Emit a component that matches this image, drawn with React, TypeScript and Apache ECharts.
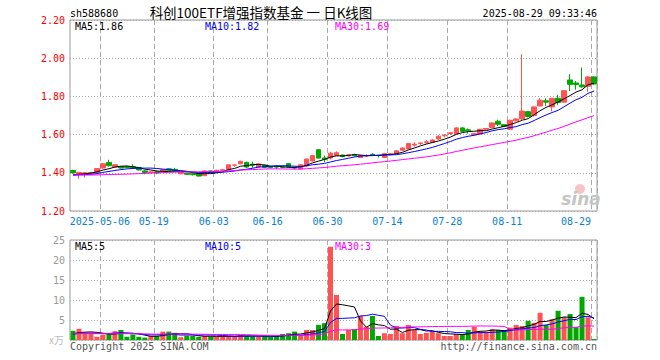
import React, { useEffect, useRef } from "react";
import * as echarts from "echarts";

// ---------- data ----------
const dates = [
  "2025-04-24","2025-04-25","2025-04-28","2025-04-29","2025-04-30",
  "2025-05-06","2025-05-07","2025-05-08","2025-05-09",
  "2025-05-12","2025-05-13","2025-05-14","2025-05-15","2025-05-16",
  "2025-05-19","2025-05-20","2025-05-21","2025-05-22","2025-05-23",
  "2025-05-26","2025-05-27","2025-05-28","2025-05-29","2025-05-30",
  "2025-06-03","2025-06-04","2025-06-05","2025-06-06",
  "2025-06-09","2025-06-10","2025-06-11","2025-06-12","2025-06-13",
  "2025-06-16","2025-06-17","2025-06-18","2025-06-19","2025-06-20",
  "2025-06-23","2025-06-24","2025-06-25","2025-06-26","2025-06-27",
  "2025-06-30","2025-07-01","2025-07-02","2025-07-03","2025-07-04",
  "2025-07-07","2025-07-08","2025-07-09","2025-07-10","2025-07-11",
  "2025-07-14","2025-07-15","2025-07-16","2025-07-17","2025-07-18",
  "2025-07-21","2025-07-22","2025-07-23","2025-07-24","2025-07-25",
  "2025-07-28","2025-07-29","2025-07-30","2025-07-31","2025-08-01",
  "2025-08-04","2025-08-05","2025-08-06","2025-08-07","2025-08-08",
  "2025-08-11","2025-08-12","2025-08-13","2025-08-14","2025-08-15",
  "2025-08-18","2025-08-19","2025-08-20","2025-08-21","2025-08-22",
  "2025-08-25","2025-08-26","2025-08-27","2025-08-28","2025-08-29",
];

// [open, close, low, high]
const candles: number[][] = [
  [1.412,1.400,1.395,1.416],[1.395,1.402,1.369,1.405],[1.396,1.400,1.375,1.404],[1.398,1.401,1.394,1.404],[1.400,1.422,1.398,1.425],
  [1.425,1.447,1.422,1.450],[1.454,1.437,1.433,1.468],[1.430,1.442,1.428,1.445],[1.433,1.425,1.422,1.436],
  [1.432,1.428,1.424,1.436],[1.432,1.425,1.420,1.445],[1.428,1.415,1.412,1.430],[1.410,1.402,1.392,1.414],[1.401,1.405,1.398,1.408],
  [1.405,1.399,1.393,1.412],[1.408,1.416,1.405,1.418],[1.421,1.413,1.410,1.424],[1.418,1.410,1.405,1.425],[1.395,1.402,1.392,1.404],
  [1.398,1.392,1.388,1.400],[1.395,1.390,1.386,1.398],[1.395,1.383,1.380,1.397],[1.385,1.410,1.384,1.412],[1.410,1.403,1.400,1.413],
  [1.405,1.413,1.402,1.416],[1.414,1.416,1.410,1.419],[1.416,1.442,1.414,1.444],[1.440,1.441,1.432,1.443],
  [1.447,1.460,1.445,1.463],[1.455,1.430,1.425,1.457],[1.445,1.440,1.425,1.458],[1.430,1.447,1.428,1.449],[1.440,1.428,1.424,1.442],
  [1.431,1.428,1.422,1.435],[1.432,1.430,1.420,1.440],[1.429,1.428,1.424,1.432],[1.448,1.430,1.428,1.450],[1.428,1.425,1.418,1.432],
  [1.420,1.442,1.418,1.445],[1.436,1.472,1.430,1.474],[1.462,1.490,1.460,1.492],[1.521,1.477,1.475,1.523],[1.478,1.470,1.455,1.490],
  [1.477,1.503,1.470,1.510],[1.490,1.505,1.488,1.512],[1.493,1.485,1.482,1.495],[1.488,1.494,1.486,1.496],[1.495,1.490,1.484,1.500],
  [1.480,1.490,1.478,1.492],[1.488,1.490,1.482,1.497],[1.497,1.495,1.490,1.502],[1.492,1.490,1.480,1.494],[1.480,1.500,1.478,1.503],
  [1.495,1.500,1.493,1.503],[1.500,1.515,1.498,1.517],[1.518,1.530,1.515,1.533],[1.525,1.553,1.522,1.555],[1.545,1.550,1.538,1.560],
  [1.554,1.556,1.546,1.558],[1.558,1.562,1.552,1.572],[1.560,1.572,1.555,1.575],[1.577,1.592,1.574,1.595],[1.594,1.597,1.585,1.602],
  [1.606,1.610,1.598,1.614],[1.605,1.635,1.602,1.638],[1.635,1.617,1.614,1.640],[1.625,1.620,1.605,1.632],[1.598,1.605,1.595,1.608],
  [1.603,1.628,1.600,1.630],[1.628,1.632,1.625,1.634],[1.637,1.661,1.635,1.664],[1.670,1.654,1.645,1.678],[1.652,1.642,1.640,1.655],
  [1.628,1.675,1.624,1.678],[1.672,1.682,1.670,1.685],[1.683,1.723,1.675,2.021],[1.720,1.695,1.690,1.724],[1.700,1.745,1.695,1.748],
  [1.750,1.780,1.748,1.792],[1.777,1.770,1.750,1.790],[1.745,1.790,1.722,1.792],[1.790,1.768,1.755,1.808],[1.770,1.830,1.768,1.832],
  [1.886,1.863,1.828,1.916],[1.870,1.862,1.835,1.880],[1.860,1.850,1.845,1.951],[1.853,1.902,1.825,1.905],[1.902,1.865,1.860,1.905],
];

// volume, 万
const volumes = [
  2.3,2.8,1.8,1.8,0.8,
  1.3,1.4,2.2,2.5,
  0.8,1.4,0.8,0.6,1.0,
  1.0,2.1,2.1,1.8,0.7,
  1.1,1.0,0.8,1.0,0.9,
  0.9,0.9,1.0,1.0,
  1.2,1.0,0.9,0.9,1.0,
  0.8,1.0,1.5,1.7,2.1,
  1.2,2.5,2.5,3.8,4.2,
  23.3,11.25,1.5,2.5,2.7,
  6.0,3.3,6.0,1.0,1.7,
  1.5,3.5,1.7,3.75,2.5,
  1.5,1.8,2.1,1.7,1.0,
  1.0,1.5,1.5,2.5,3.3,
  2.1,1.8,2.7,2.5,2.5,
  3.1,3.75,3.5,4.8,4.3,
  6.8,3.75,5.2,7.3,5.7,
  6.5,3.2,10.8,5.7,0.25,
];

// closes / volumes of the sessions before the visible window (for the moving averages)
const priorCloses = [1.40,1.41,1.42,1.41,1.40,1.41,1.42,1.41,1.40,1.39,1.38,1.36,1.35,1.37,1.38,1.37,1.38,1.39,1.38,1.37,1.38,1.39,1.38,1.39,1.38,1.39,1.39,1.38,1.39];
const priorVolumes = [1.6,1.4,1.8,1.5,1.3,1.7,2.0,1.6,1.4,1.2,1.5,1.8,2.2,1.9,1.6,1.4,1.3,1.5,1.7,1.4,1.2,1.3,1.6,1.5,1.4,1.2,1.3,1.5,1.4];

const markDates = ["2025-05-06","2025-05-19","2025-06-03","2025-06-16","2025-06-30","2025-07-14","2025-07-28","2025-08-11","2025-08-29"];
const maPeriods = [5, 10, 30];
const maColors = ["#000000", "#0000ff", "#ff00ff"];
const priceMaLabels = ["MA5:1.86", "MA10:1.82", "MA30:1.69"];
const volMaLabels = ["MA5:5", "MA10:5", "MA30:3"];

const symbolText = "sh588680";
const titleText = "科创100ETF增强指数基金 一 日K线图";
const timeText = "2025-08-29 09:33:46";
const unitText = "x万";
const copyText = "Copyright 2025 SINA.COM";
const urlText = "http://finance.sina.com.cn";

const UP = "#ff5353";
const DOWN = "#00a800";
const MONO = "'DejaVu Sans Mono', 'Liberation Mono', monospace";

function movingAverage(values: number[], prior: number[], n: number): number[] {
  const all = prior.concat(values);
  const off = prior.length;
  return values.map((_, i) => {
    let s = 0;
    for (let k = 0; k < n; k++) s += all[off + i - k];
    return +(s / n).toFixed(4);
  });
}

export default function App() {
  const ref = useRef<HTMLDivElement>(null);

  useEffect(() => {
    const chart = echarts.init(ref.current!, null, { renderer: "svg" });
    const closes = candles.map((c) => c[1]);
    const isMark = (_i: number, v: string) => markDates.indexOf(v) >= 0;
    const lastMark = markDates[markDates.length - 1];

    const gridLeft = 70;
    const gridW = 527;

    const xCommon = {
      type: "category" as const,
      data: dates,
      boundaryGap: true,
      axisLine: { show: false },
      axisTick: { show: false },
      splitLine: {
        show: true,
        interval: isMark,
        lineStyle: { color: "#aaaaaa", width: 1, type: [5, 3] },
      },
    };

    const priceLines = maPeriods.map((p, k) => ({
      type: "line",
      xAxisIndex: 0,
      yAxisIndex: 0,
      data: movingAverage(closes, priorCloses, p),
      showSymbol: false,
      symbol: "none",
      lineStyle: { color: maColors[k], width: 1 },
      z: 3,
    }));
    const volLines = maPeriods.map((p, k) => ({
      type: "line",
      xAxisIndex: 1,
      yAxisIndex: 1,
      data: movingAverage(volumes, priorVolumes, p),
      showSymbol: false,
      symbol: "none",
      lineStyle: { color: maColors[k], width: 1 },
      z: 3,
    }));

    const textEl = (text: string, x: number, y: number, fill: string, opts: any = {}) => {
      const fs = opts.fontSize || 10;
      return {
        type: "text",
        x,
        y,
        silent: true,
        style: {
          text,
          fill,
          fontSize: fs,
          lineHeight: opts.lineHeight || fs,
          fontFamily: opts.fontFamily || MONO,
          fontStyle: opts.fontStyle || "normal",
          fontWeight: opts.fontWeight || "normal",
          textAlign: opts.align || "left",
          textVerticalAlign: "middle",
        },
        z: 10,
      };
    };

    const graphic: any[] = [
      textEl(symbolText, 70, 13, "#000"),
      textEl(titleText, 261, 12, "#000", { fontSize: 13.5, lineHeight: 13, fontFamily: "'Noto Sans CJK SC', sans-serif", align: "center" }),
      textEl(timeText, 597, 13, "#000", { align: "right" }),
      ...priceMaLabels.map((t, k) => textEl(t, [75, 205, 335][k], 26, maColors[k])),
      ...volMaLabels.map((t, k) => textEl(t, [75, 205, 335][k], 246, maColors[k])),
      textEl(unitText, 49, 339, "#bbbbbb", { fontFamily: "'Noto Sans CJK SC', sans-serif" }),
      textEl(copyText, 70, 346, "#555555"),
      textEl(urlText, 597, 346, "#555555", { align: "right" }),
      { type: "circle", shape: { cx: 580, cy: 189, r: 5 }, style: { fill: "#f6c4c4" }, silent: true, z: 1 },
      textEl("sina", 581, 199, "#c4c4c4", { fontSize: 17, fontStyle: "italic", fontWeight: "bold", fontFamily: "'DejaVu Sans', sans-serif", align: "center" }),
    ];

    const option: any = {
      animation: false,
      backgroundColor: "#ffffff",
      grid: [
        { left: gridLeft, top: 20, width: gridW, height: 191, show: true, borderColor: "#999999", borderWidth: 1 },
        { left: gridLeft, top: 240, width: gridW, height: 100, show: true, borderColor: "#999999", borderWidth: 1 },
      ],
      xAxis: [
        {
          ...xCommon,
          gridIndex: 0,
          axisLabel: {
            show: true,
            interval: isMark,
            margin: 5,
            hideOverlap: false,
            formatter: (v: string) => {
              const t = v === markDates[0] ? v : v.slice(5);
              return v === lastMark ? `{e|${t}}` : `{n|${t}}`;
            },
            rich: {
              n: { fontFamily: MONO, fontSize: 10, color: "#0a80d0", padding: [0, 6, 0, 0] },
              e: { fontFamily: MONO, fontSize: 10, color: "#0a80d0", padding: [0, 36, 0, 0] },
            },
          },
        },
        { ...xCommon, gridIndex: 1, axisLabel: { show: false } },
      ],
      yAxis: [
        {
          type: "value",
          gridIndex: 0,
          min: 1.2,
          max: 2.2,
          interval: 0.2,
          axisLine: { show: false },
          axisTick: { show: false },
          axisLabel: {
            margin: 5,
            color: "#ff0000",
            fontFamily: MONO,
            fontSize: 10,
            formatter: (v: number) => v.toFixed(2),
          },
          splitLine: { show: true, lineStyle: { color: "#aaaaaa", width: 1, type: [1, 2] } },
        },
        {
          type: "value",
          gridIndex: 1,
          min: 0,
          max: 25,
          interval: 5,
          axisLine: { show: false },
          axisTick: { show: false },
          axisLabel: {
            margin: 5,
            color: "#999999",
            fontFamily: MONO,
            fontSize: 10,
            formatter: (v: number) => (v === 0 ? "" : String(v)),
          },
          splitLine: { show: true, lineStyle: { color: "#aaaaaa", width: 1, type: [1, 2] } },
        },
      ],
      series: [
        {
          type: "candlestick",
          xAxisIndex: 0,
          yAxisIndex: 0,
          data: candles,
          barWidth: 5,
          itemStyle: { color: UP, color0: DOWN, borderColor: UP, borderColor0: DOWN, borderWidth: 1 },
          z: 2,
        },
        ...priceLines,
        {
          type: "bar",
          xAxisIndex: 1,
          yAxisIndex: 1,
          barWidth: 5,
          data: volumes.map((v, i) => ({
            value: v,
            itemStyle: { color: candles[i][1] >= candles[i][0] ? UP : DOWN },
          })),
          z: 2,
        },
        ...volLines,
      ],
      graphic,
    };

    chart.setOption(option);
    return () => chart.dispose();
  }, []);

  return (
    <div
      ref={ref}
      style={{ position: "fixed", left: 0, top: 0, width: 660, height: 360, background: "#fff" }}
    />
  );
}
